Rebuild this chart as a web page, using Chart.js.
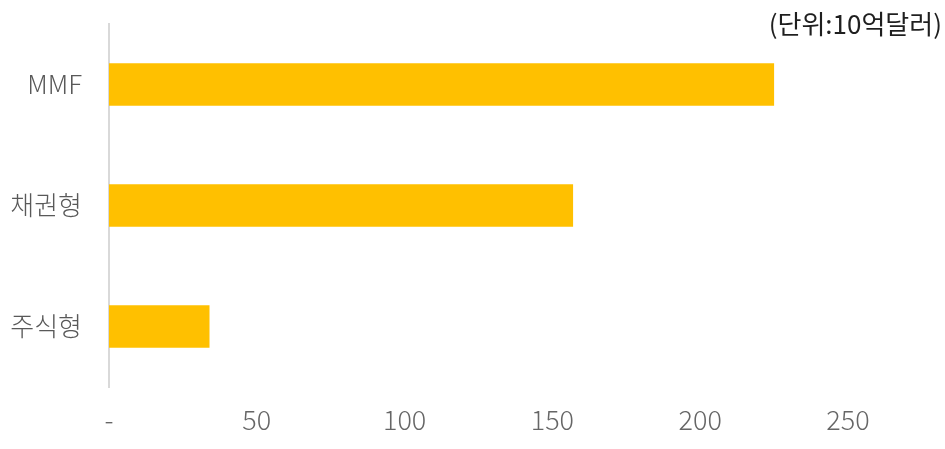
<!DOCTYPE html>
<html>
<head>
<meta charset="utf-8">
<script src="https://cdn.jsdelivr.net/npm/chart.js@4"></script>
<style>
  html, body { margin: 0; padding: 0; background: #fff; }
  #wrap { position: relative; width: 945px; height: 449px; }
  #unit { position: absolute; right: 3px; top: 7px; font-family: "Noto Sans CJK KR", "Noto Sans", sans-serif; font-size: 26px; line-height: 32px; color: #1f1f1f; font-weight: 400; }
</style>
</head>
<body>
<div id="wrap">
  <canvas id="c" width="945" height="449"></canvas>
  <div id="unit">(단위:10억달러)</div>
</div>
<script>
const categories = ["MMF", "채권형", "주식형"];
const values = [225, 157, 34];
const xTicks = [0, 50, 100, 150, 200, 250];

const FONT = "'Noto Sans CJK KR', 'Noto Sans', sans-serif";

new Chart(document.getElementById('c'), {
  type: 'bar',
  data: {
    labels: categories,
    datasets: [{
      data: values,
      backgroundColor: '#FFC000',
      borderWidth: 0,
      categoryPercentage: 1,
      barPercentage: 0.35
    }]
  },
  options: {
    indexAxis: 'y',
    responsive: false,
    animation: false,
    layout: { padding: { top: 24, right: 97, left: 0, bottom: 0 } },
    plugins: { legend: { display: false }, tooltip: { enabled: false } },
    scales: {
      x: {
        min: 0, max: 250,
        afterBuildTicks: (s) => { s.ticks = xTicks.map(v => ({ value: v })); },
        afterFit: (s) => { s.height = 62; s.paddingLeft = 0; s.paddingRight = 0; },
        grid: { display: false },
        border: { display: false },
        ticks: {
          padding: 9,
          color: '#666666',
          font: { family: FONT, size: 27, weight: 300 },
          callback: (v) => v === 0 ? '-' : String(v),
          maxRotation: 0
        }
      },
      y: {
        afterFit: (s) => { s.width = 109; s.paddingTop = 0; s.paddingBottom = 0; },
        grid: { display: false },
        border: { display: true, color: '#d9d9d9', width: 2 },
        ticks: {
          padding: 19,
          color: '#595959',
          font: { family: FONT, size: 26, weight: 300 }
        }
      }
    }
  }
});
</script>
</body>
</html>
